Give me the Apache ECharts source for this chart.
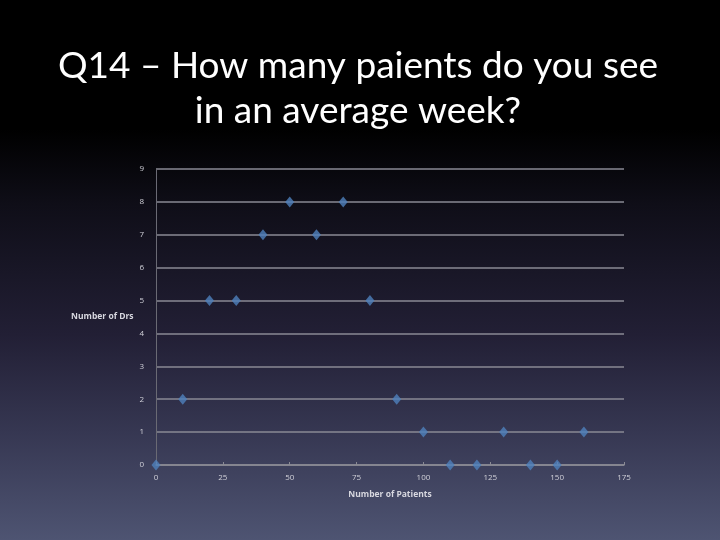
<!DOCTYPE html>
<html><head><meta charset="utf-8">
<script src="https://cdn.jsdelivr.net/npm/echarts@6/dist/echarts.min.js"></script>
<style>
html,body{margin:0;padding:0;}
#c{width:720px;height:540px;background:linear-gradient(to bottom,#000 0%,#000 24%,#0f0e18 38%,#221f35 62%,#363752 80%,#4e5472 100%);}
</style></head><body>
<div id="c"></div>
<script>
const titleLines = ['Q14 – How many paients do you see', 'in an average week?'];
const xName = 'Number of Patients';
const yName = 'Number of Drs';
const patients = [0,10,20,30,40,50,60,70,80,90,100,110,120,130,140,150,160];
const doctors  = [0,2,5,5,7,8,7,8,5,2,1,0,0,1,0,0,1];

const chart = echarts.init(document.getElementById('c'));
const pts = patients.map((p,i)=>[p,doctors[i]]);
chart.setOption({
  backgroundColor:'transparent',
  title:{text:titleLines.join('\n'),left:353,textAlign:'center',top:39,
    textStyle:{color:'#fff',fontFamily:'Lato',fontWeight:'normal',fontSize:37,lineHeight:45}},
  grid:{left:156,right:96,top:169,bottom:75},
  xAxis:{type:'value',min:0,max:175,interval:25,
    name:xName,nameLocation:'middle',nameGap:25,
    nameTextStyle:{color:'#d8d8e0',fontSize:8.5,fontWeight:'bold',fontFamily:'Open Sans'},
    axisLine:{show:true,lineStyle:{color:'#8a8a94',width:1.5}},
    axisTick:{show:true,length:3,inside:true,lineStyle:{color:'#8a8a94'}},
    axisLabel:{color:'#d0d0d8',fontSize:8,margin:9,fontFamily:'Open Sans'},
    splitLine:{show:false}},
  yAxis:{type:'value',min:0,max:9,interval:1,
    name:yName,nameLocation:'middle',nameRotate:0,nameGap:20,
    nameTextStyle:{color:'#d8d8e0',fontSize:8.5,fontWeight:'bold',fontFamily:'Open Sans'},
    axisLine:{show:true,lineStyle:{color:'#6a6a74',width:1}},
    axisTick:{show:false},
    axisLabel:{color:'#d0d0d8',fontSize:8,margin:12,fontFamily:'Open Sans'},
    splitLine:{show:true,lineStyle:{color:'#8a8a94',width:1.5}}},
  series:[{type:'scatter',data:pts,symbol:'diamond',symbolSize:[9,11],
    itemStyle:{color:'#4f81bd'},silent:true,animation:false}],
  animation:false
});
</script></body></html>
